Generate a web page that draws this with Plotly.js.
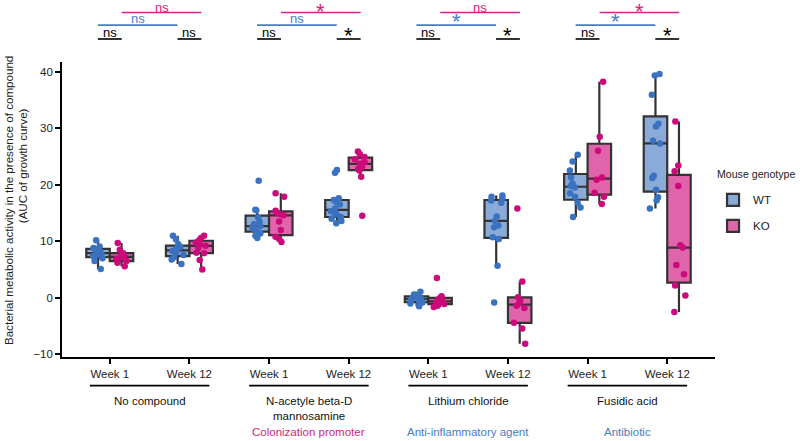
<!DOCTYPE html>
<html>
<head>
<meta charset="utf-8">
<script src="https://cdn.plot.ly/plotly-3.0.1.min.js"></script>
<style>
  html, body { margin: 0; padding: 0; background: #fff; }
  #chart { width: 800px; height: 441px; }
</style>
</head>
<body>
<div id="chart"></div>
<script>
// ---- categories / labels ----
const compounds = ["No compound", "N-acetyle beta-D<br>mannosamine", "Lithium chloride", "Fusidic acid"];
const compoundRoles = ["", "Colonization promoter", "Anti-inflammatory agent", "Antibiotic"];
const roleColors = ["#000000", "#d4247f", "#4a7cc4", "#4a7cc4"];
const weekLabels = ["Week 1", "Week 12"];
const genotypes = ["WT", "KO"];
const yTitleLines = ["Bacterial metabolic activity in the presence of compound", "(AUC of growth curve)"];
const legendTitle = "Mouse genotype";

// ---- values (AUC of growth curve) ----
// No compound
const wtNoCompoundW1  = [10.2, 9.1, 8.8, 8.5, 8.2, 8.0, 7.8, 7.6, 7.4, 7.0, 6.5, 5.1];
const koNoCompoundW1  = [9.7, 8.5, 7.9, 7.6, 7.4, 7.1, 6.9, 6.5, 6.2, 5.6];
const wtNoCompoundW12 = [11.0, 10.3, 9.5, 9.0, 8.8, 8.5, 8.3, 8.0, 7.6, 7.2, 6.8, 6.0];
const koNoCompoundW12 = [11.0, 10.6, 10.2, 9.8, 9.5, 9.2, 8.8, 8.0, 7.9, 6.7, 5.0];
// N-acetyle beta-D mannosamine
const wtMannosamineW1  = [20.7, 15.6, 15.5, 14.2, 13.5, 13.0, 12.7, 12.5, 12.2, 11.8, 11.4, 11.0, 10.6];
const koMannosamineW1  = [18.5, 17.9, 15.4, 15.0, 14.8, 14.6, 13.5, 12.0, 10.8, 10.4, 9.9];
const wtMannosamineW12 = [22.6, 22.1, 17.6, 17.3, 17.0, 16.5, 15.8, 15.3, 15.0, 14.8, 14.3, 14.0, 13.6, 13.2];
const koMannosamineW12 = [25.9, 25.4, 24.9, 24.5, 24.0, 23.7, 23.2, 22.8, 22.5, 21.4, 14.5];
// Lithium chloride
const wtLithiumW1  = [1.1, 0.6, 0.3, 0.1, -0.1, -0.2, -0.4, -0.6, -0.8, -1.0, -1.5];
const koLithiumW1  = [3.5, 0.3, 0.0, -0.3, -0.5, -0.7, -0.9, -1.1, -1.4, -1.6];
const wtLithiumW12 = [18.1, 17.9, 17.6, 17.2, 16.8, 14.4, 13.6, 12.8, 12.5, 10.7, 10.4, 5.7, -0.8];
const koLithiumW12 = [15.8, 2.9, 0.1, -0.5, -1.0, -1.4, -1.8, -4.4, -5.4, -8.1];
// Fusidic acid
const wtFusidicW1  = [25.3, 24.1, 22.5, 21.3, 20.2, 19.8, 19.5, 18.5, 17.9, 16.8, 16.0, 14.3];
const koFusidicW1  = [38.2, 28.5, 26.0, 21.3, 20.9, 18.6, 17.9, 16.6];
const wtFusidicW12 = [39.6, 39.3, 35.9, 30.8, 30.3, 27.8, 27.3, 21.6, 21.2, 19.1, 17.8, 17.2, 15.8];
const koFusidicW12 = [31.2, 23.4, 22.4, 19.8, 9.3, 8.9, 5.8, 4.2, 2.2, 0.4, -2.5];

// ---- significance labels ----
const sigWithinWeek1   = ["ns", "ns", "ns", "ns"];   // WT vs KO at week 1
const sigWithinWeek12  = ["ns", "*", "*", "*"];      // WT vs KO at week 12
const sigWTAcrossWeeks = ["ns", "ns", "*", "*"];     // WT week 1 vs week 12
const sigKOAcrossWeeks = ["ns", "*", "ns", "*"];     // KO week 1 vs week 12

// ordered per x slot: compound c, week w -> slot 2c + w
const wtSeries = [wtNoCompoundW1, wtNoCompoundW12, wtMannosamineW1, wtMannosamineW12,
                  wtLithiumW1, wtLithiumW12, wtFusidicW1, wtFusidicW12];
const koSeries = [koNoCompoundW1, koNoCompoundW12, koMannosamineW1, koMannosamineW12,
                  koLithiumW1, koLithiumW12, koFusidicW1, koFusidicW12];

function flatten(series) {
  const x = [], y = [];
  series.forEach((vals, slot) => vals.forEach(v => { x.push(slot); y.push(v); }));
  return {x, y};
}
const wt = flatten(wtSeries), ko = flatten(koSeries);

const FONT = "Liberation Sans, Arial, Helvetica, sans-serif";
const boxCommon = {
  type: "box",
  boxpoints: "all",
  jitter: 0.55,
  pointpos: 0,
  whiskerwidth: 0,
  line: {color: "#333333", width: 2.2},
  hoverinfo: "y"
};
const traces = [
  Object.assign({}, boxCommon, {
    name: genotypes[0], legendgroup: genotypes[0], x: wt.x, y: wt.y,
    fillcolor: "#8aaad8",
    marker: {color: "#3a72c0", size: 6.5, opacity: 1}
  }),
  Object.assign({}, boxCommon, {
    name: genotypes[1], legendgroup: genotypes[1], x: ko.x, y: ko.y,
    fillcolor: "#e064ab",
    marker: {color: "#cc0a7a", size: 6.5, opacity: 1}
  })
];

// ---- annotations / shapes ----
const shapes = [], annotations = [];
const off = 0.15;
const yPink = 1.168, yBlue = 1.125, yBlack = 1.078;
const pinkC = "#d4247f", blueC = "#4a7cc4";

function sigLabel(text, x, y, color, extraShift) {
  const star = text === "*";
  annotations.push({
    xref: "x", yref: "paper", x: x, y: y,
    text: text, showarrow: false,
    xanchor: "center", yanchor: "bottom",
    yshift: (star ? -11 : -3) - (extraShift || 0),
    font: {family: FONT, size: star ? 22 : 13, color: color}
  });
}
function hline(x0, x1, y, color) {
  shapes.push({type: "line", xref: "x", yref: "paper", x0: x0, x1: x1, y0: y, y1: y,
               line: {color: color, width: 1.6}});
}

compounds.forEach((name, c) => {
  const s0 = 2 * c, s1 = 2 * c + 1;
  hline(s0 - off, s0 + off, yBlack, "#000");
  sigLabel(sigWithinWeek1[c], s0, yBlack, "#000");
  hline(s1 - off, s1 + off, yBlack, "#000");
  sigLabel(sigWithinWeek12[c], s1, yBlack, "#000");
  hline(s0 - off, s1 - off, yBlue, blueC);
  sigLabel(sigWTAcrossWeeks[c], s0 + 0.5 - off, yBlue, blueC);
  hline(s0 + off, s1 + off, yPink, pinkC);
  sigLabel(sigKOAcrossWeeks[c], s0 + 0.5 + off, yPink, pinkC,
           sigKOAcrossWeeks[c] === "*" ? 3 : 1.5);

  shapes.push({type: "line", xref: "x", yref: "paper",
               x0: s0 + 0.5 - 0.75, x1: s0 + 0.5 + 0.75, y0: -0.097, y1: -0.097,
               line: {color: "#000", width: 1.6}});
  annotations.push({xref: "x", yref: "paper", x: s0 + 0.5, y: -0.122,
                    text: name, showarrow: false, xanchor: "center", yanchor: "top",
                    font: {family: FONT, size: 11.5, color: "#111"}});
  if (compoundRoles[c]) {
    annotations.push({xref: "x", yref: "paper", x: s0 + 0.5, y: -0.254,
                      text: compoundRoles[c], showarrow: false, xanchor: "center", yanchor: "middle",
                      font: {family: FONT, size: 11.5, color: roleColors[c]}});
  }
});

// y axis title (two lines, drawn as rotated text)
annotations.push({xref: "paper", yref: "paper", x: -0.0827, y: 0.532, textangle: -90,
                  text: yTitleLines[0], showarrow: false, xanchor: "center", yanchor: "middle",
                  font: {family: FONT, size: 11.6, color: "#222"}});
annotations.push({xref: "paper", yref: "paper", x: -0.0613, y: 0.650, textangle: -90,
                  text: yTitleLines[1], showarrow: false, xanchor: "center", yanchor: "middle",
                  font: {family: FONT, size: 11.6, color: "#222"}});
// legend title
annotations.push({xref: "paper", yref: "paper", x: 1.0, y: 0.620,
                  text: legendTitle, showarrow: false, xanchor: "left", yanchor: "middle",
                  font: {family: FONT, size: 10.6, color: "#222"}});

const tickVals = [], tickText = [];
compounds.forEach((_, c) => weekLabels.forEach((w, k) => { tickVals.push(2 * c + k); tickText.push(w); }));

const layout = {
  width: 800, height: 441,
  margin: {l: 62, r: 85, t: 62, b: 84, autoexpand: false},
  paper_bgcolor: "#fff", plot_bgcolor: "#fff",
  font: {family: FONT, size: 11.5, color: "#222"},
  boxmode: "group",
  boxgap: 0.41,
  boxgroupgap: 0,
  showlegend: true,
  legend: {
    x: 0.997, xanchor: "left", y: 0.582, yanchor: "top",
    font: {family: FONT, size: 11.5, color: "#222"},
    traceorder: "grouped", tracegroupgap: 7,
    bgcolor: "rgba(0,0,0,0)"
  },
  xaxis: {
    range: [-0.6, 7.6], showgrid: false, zeroline: false, automargin: false,
    tickmode: "array", tickvals: tickVals, ticktext: tickText,
    ticks: "outside", ticklen: 5, tickwidth: 1.6, tickcolor: "#000",
    showline: true, linecolor: "#000", linewidth: 1.6,
    tickfont: {family: FONT, size: 11.5, color: "#222"}
  },
  yaxis: {
    range: [-10.45, 41.7], showgrid: false, zeroline: false, automargin: false,
    tickvals: [-10, 0, 10, 20, 30, 40],
    ticks: "outside", ticklen: 5, tickwidth: 1.6, tickcolor: "#000",
    showline: true, linecolor: "#000", linewidth: 1.6,
    tickfont: {family: FONT, size: 11.5, color: "#222"}
  },
  shapes: shapes,
  annotations: annotations
};

Plotly.newPlot("chart", traces, layout, {displayModeBar: false, responsive: false});
</script>
</body>
</html>
